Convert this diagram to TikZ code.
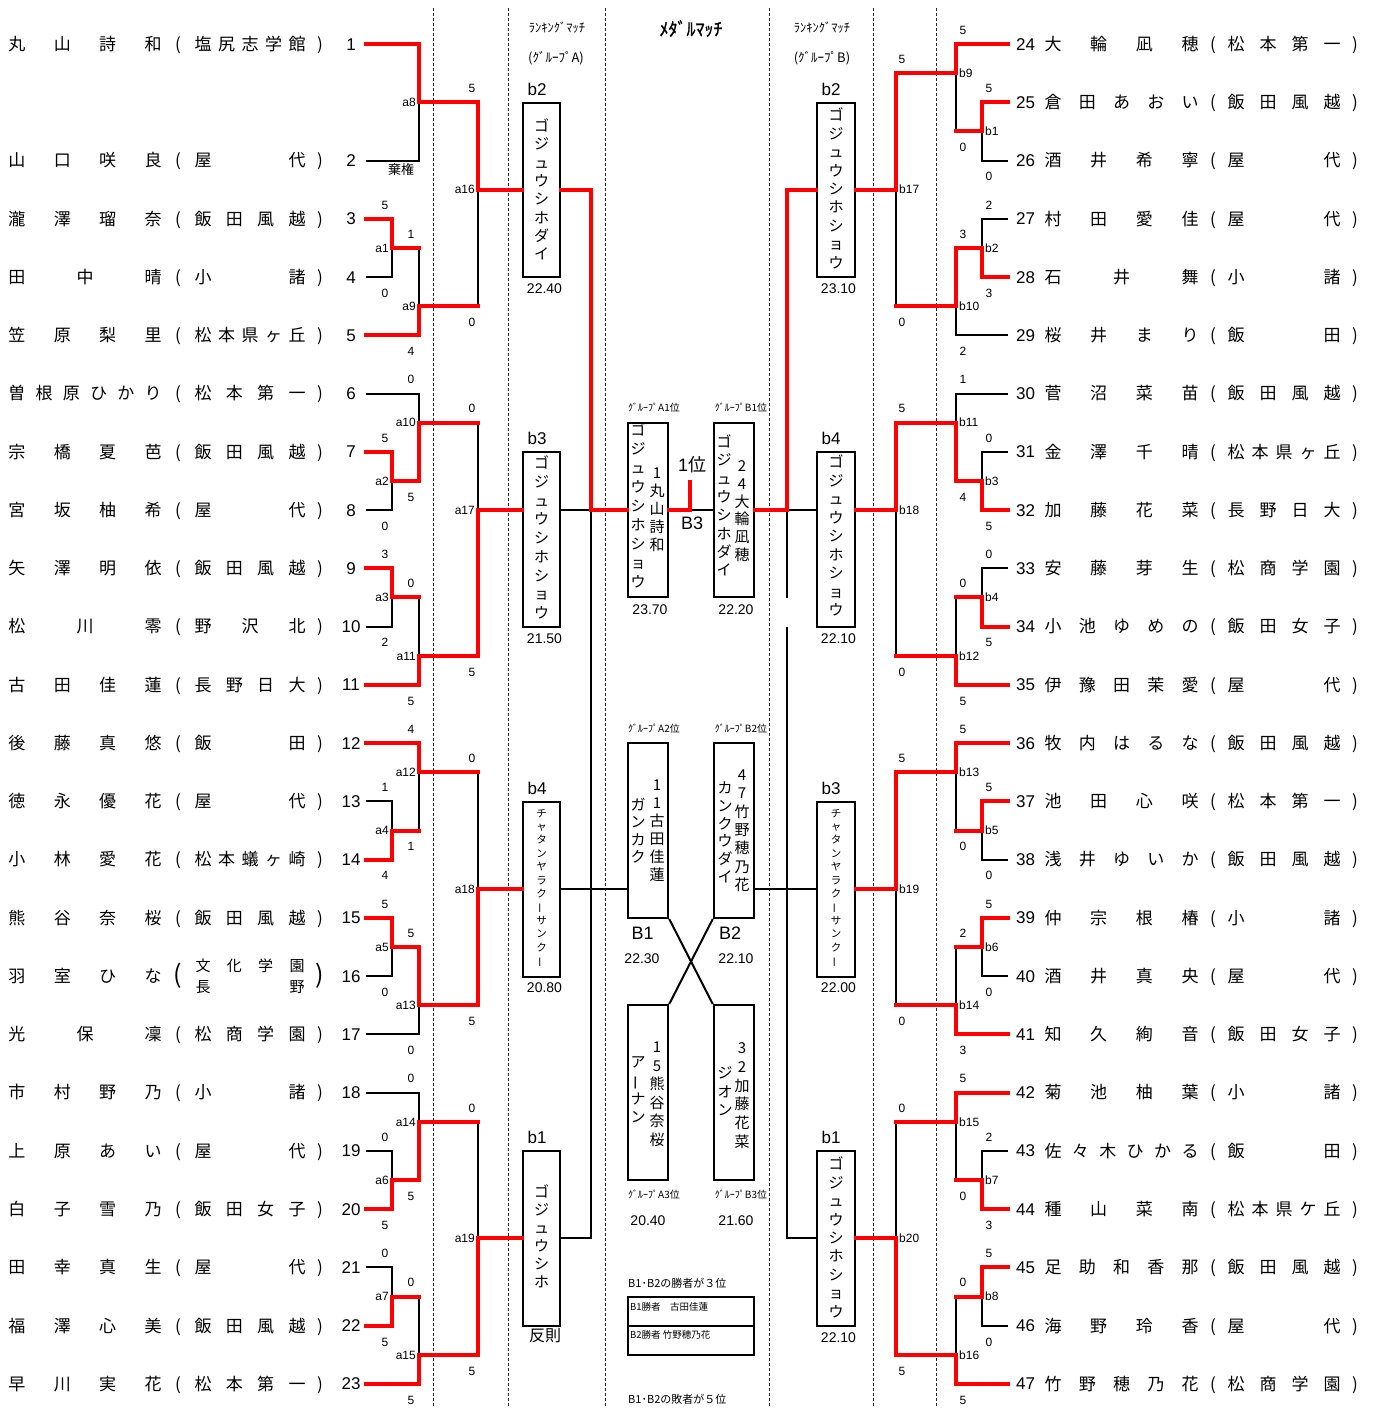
\documentclass[tikz,border=0pt]{standalone}
\usepackage{fontspec}
\setmainfont{Liberation Sans}
\newfontfamily\jp{Noto Sans CJK JP}
\newfontfamily\jpb[FakeBold=1.2]{Noto Sans CJK JP}
\newcommand\vbar{\rotatebox[origin=c]{90}{ー}}
\tikzset{
  win/.style={draw=red,line width=4pt,line cap=rect},
  lose/.style={draw=black,line width=2pt},
  bx/.style={draw=black,line width=2.4pt,minimum width=37.5pt,minimum height=174.5pt,inner sep=0},
  cbx/.style={draw=black,line width=2.4pt,minimum width=40pt,minimum height=174.5pt,inner sep=0},
  sep/.style={draw=black!85,line width=1pt,dash pattern=on 3pt off 2pt},
  num/.style={font=\fontsize{17}{17}\selectfont,anchor=base,inner sep=0},
  nm/.style={font=\jp\fontsize{17}{17}\selectfont,anchor=base,inner sep=0},
  sc/.style={font=\fontsize{12}{12}\selectfont,anchor=base,inner sep=0},
  jlL/.style={font=\fontsize{12}{12}\selectfont,anchor=base east,inner sep=0},
  jlR/.style={font=\fontsize{12}{12}\selectfont,anchor=base west,inner sep=0},
  rows/.style={y=-58.26pt,yshift=-44pt}
}
% spread characters evenly: row, x0, x1, n, list
\newcommand\spread[5]{\foreach \ch [count=\i] in {#5}{\node[nm,yshift=-6.3pt] at ({#2+(\i-1)*((#3)-(#2))/((#4)-1)},#1) {\ch};}}
\newcommand\lp[6]{\node[num,yshift=-6pt] (n#1) at (351,#2) {#1};
  \spread{#2}{17}{153}{#4}{#3}
  \node[nm,yshift=-6.3pt] at (178,#2) {(};
  \spread{#2}{203}{297}{#6}{#5}
  \node[nm,yshift=-6.3pt] at (320,#2) {)};}
\newcommand\rp[6]{\node[num,yshift=-6pt] (n#1) at (1025.5,#2) {#1};
  \spread{#2}{1053}{1190}{#4}{#3}
  \node[nm,yshift=-6.3pt] at (1213,#2) {(};
  \spread{#2}{1236}{1332}{#6}{#5}
  \node[nm,yshift=-6.3pt] at (1355,#2) {)};}
\newcommand\scA[3]{\node[sc,yshift=9.7pt] at (#1,#2) {#3};}
\newcommand\scB[3]{\node[sc,yshift=-20.3pt] at (#1,#2) {#3};}
\newcommand\jL[3]{\node[jlL,yshift=-4.3pt] at ({#1-3},#2) {#3};}
\newcommand\jR[3]{\node[jlR,yshift=-4.3pt] at ({#1+3},#2) {#3};}
% vertical column: x, ycenter, spacing, n, size, list
\newcommand\vcol[6]{\foreach \ch [count=\i] in {#6}{\node[font=\jp\fontsize{#5}{#5}\selectfont,anchor=base,inner sep=0] at ({#1},{#2+(\i-1-((#4)-1)/2)*(#3)+0.37*(#5)}) {\ch};}}
\newcommand\tx[4]{\node[font=\fontsize{#3}{#3}\selectfont,anchor=base,inner sep=0] at (#1,{#2+0.36*(#3)}) {#4};}
\newcommand\tj[4]{\node[font=\jp\fontsize{#3}{#3}\selectfont,anchor=base,inner sep=0] at (#1,{#2+0.37*(#3)}) {#4};}

\begin{document}
\begin{tikzpicture}[x=1pt,y=-1pt]
\useasboundingbox (0,0) rectangle (1376,1408);
\fill[white] (0,0) rectangle (1376,1408);

% separators
\foreach \sx in {433,508,605,769,873,936} {\draw[sep] (\sx,8) -- (\sx,1408);}

% boxes
\node[bx] (Lb2) at (541.5,190) {};
\node[bx] (Lb3) at (541.5,539.5) {};
\node[bx] (Lb4) at (541.5,889.5) {};
\node[bx] (Lb1) at (541.5,1238.5) {};
\node[bx] (Rb2) at (836,190) {};
\node[bx] (Rb4) at (836,539.5) {};
\node[bx] (Rb3) at (836,889.5) {};
\node[bx] (Rb1) at (836,1238.5) {};
\node[cbx] (cA1) at (648,510) {};
\node[cbx] (cB1) at (734,510) {};
\node[cbx] (cA2) at (648,830.5) {};
\node[cbx] (cB2) at (734,830.5) {};
\node[cbx] (cA3) at (648,1092.5) {};
\node[cbx] (cB3) at (734,1092.5) {};
\node[draw,line width=2pt,minimum width=126pt,minimum height=29pt,inner sep=0] (tb1) at (691,1311.5) {};
\node[draw,line width=2pt,minimum width=126pt,minimum height=29pt,inner sep=0] (tb2) at (691,1340.5) {};

\draw[lose] (cA2.south east) -- (cB3.north west);
\draw[lose] (cB2.south west) -- (cA3.north east);

\begin{scope}[rows]
\coordinate (y2h) at (0,2.5);
\coordinate (y8) at (0,8);
\coordinate (y14h) at (0,14.5);
\coordinate (y20h) at (0,20.5);

% ---- left black
\draw[lose] (366,2) -- (419,2) -- (419,1);
\draw[lose] (366,4) -- (392,4) -- (392,3.5);
\draw[lose] (419,3.5) -- (419,4.5);
\draw[lose] (478,2.5) -- (478,4.5);
\draw[lose] (366,6) -- (419,6) -- (419,6.5);
\draw[lose] (366,8) -- (392,8) -- (392,7.5);
\draw[lose] (478,6.5) -- (478,8);
\draw[lose] (366,10) -- (392,10) -- (392,9.5);
\draw[lose] (419,9.5) -- (419,10.5);
\draw[lose] (419,12.5) -- (419,13.5);
\draw[lose] (366,13) -- (392,13) -- (392,13.5);
\draw[lose] (478,12.5) -- (478,14.5);
\draw[lose] (366,16) -- (392,16) -- (392,15.5);
\draw[lose] (366,17) -- (419,17) -- (419,16.5);
\draw[lose] (366,18) -- (419,18) -- (419,18.5);
\draw[lose] (366,19) -- (392,19) -- (392,19.5);
\draw[lose] (478,18.5) -- (478,20.5);
\draw[lose] (366,21) -- (392,21) -- (392,21.5);
\draw[lose] (419,21.5) -- (419,22.5);
% ---- right black
\draw[lose] (1008,2) -- (982,2) -- (982,1.5);
\draw[lose] (956,0.5) -- (956,1.5);
\draw[lose] (896,2.5) -- (896,4.5);
\draw[lose] (1008,3) -- (982,3) -- (982,3.5);
\draw[lose] (1008,5) -- (956,5) -- (956,4.5);
\draw[lose] (1008,6) -- (956,6) -- (956,6.5);
\draw[lose] (1008,7) -- (982,7) -- (982,7.5);
\draw[lose] (896,8) -- (896,10.5);
\draw[lose] (1008,9) -- (982,9) -- (982,9.5);
\draw[lose] (956,9.5) -- (956,10.5);
\draw[lose] (956,12.5) -- (956,13.5);
\draw[lose] (1008,14) -- (982,14) -- (982,13.5);
\draw[lose] (896,14.5) -- (896,16.5);
\draw[lose] (1008,16) -- (982,16) -- (982,15.5);
\draw[lose] (956,15.5) -- (956,16.5);
\draw[lose] (956,18.5) -- (956,19.5);
\draw[lose] (1008,19) -- (982,19) -- (982,19.5);
\draw[lose] (896,18.5) -- (896,20.5);
\draw[lose] (1008,22) -- (982,22) -- (982,21.5);
\draw[lose] (956,21.5) -- (956,22.5);
% ---- centre black
\draw[lose] (Lb3.east |- y8) -- (591,8) -- (591,20.5) -- (Lb1.east |- y20h);
\draw[lose] (Lb4.east |- y14h) -- (cA2.west |- y14h);
\draw[lose] (690,8) -- (cB1.west |- y8);
\draw[lose] (787,8) -- (Rb4.west |- y8);
\draw[lose] (787,8) -- (787,9.51);
\draw[lose] (787,10.01) -- (787,20.5) -- (Rb1.west |- y20h);
\draw[lose] (cB2.east |- y14h) -- (Rb3.west |- y14h);

% ---- left red
\draw[win] (366,0) -- (419,0) -- (419,1) -- (478,1) -- (478,2.5) -- (Lb2.west |- y2h);
\draw[win] (366,3) -- (392,3) -- (392,3.5) -- (419,3.5);
\draw[win] (366,5) -- (419,5) -- (419,4.5) -- (478,4.5);
\draw[win] (366,7) -- (392,7) -- (392,7.5) -- (419,7.5) -- (419,6.5) -- (478,6.5);
\draw[win] (366,9) -- (392,9) -- (392,9.5) -- (419,9.5);
\draw[win] (366,11) -- (419,11) -- (419,10.5) -- (478,10.5) -- (478,8) -- (Lb3.west |- y8);
\draw[win] (366,12) -- (419,12) -- (419,12.5) -- (478,12.5);
\draw[win] (366,14) -- (392,14) -- (392,13.5) -- (419,13.5);
\draw[win] (366,15) -- (392,15) -- (392,15.5) -- (419,15.5) -- (419,16.5) -- (478,16.5) -- (478,14.5) -- (Lb4.west |- y14h);
\draw[win] (366,20) -- (392,20) -- (392,19.5) -- (419,19.5) -- (419,18.5) -- (478,18.5);
\draw[win] (366,22) -- (392,22) -- (392,21.5) -- (419,21.5);
\draw[win] (366,23) -- (419,23) -- (419,22.5) -- (478,22.5) -- (478,20.5) -- (Lb1.west |- y20h);
% ---- right red
\draw[win] (1008,0) -- (956,0) -- (956,0.5) -- (896,0.5) -- (896,2.5) -- (Rb2.east |- y2h);
\draw[win] (1008,1) -- (982,1) -- (982,1.5) -- (956,1.5);
\draw[win] (1008,4) -- (982,4) -- (982,3.5) -- (956,3.5) -- (956,4.5) -- (896,4.5);
\draw[win] (1008,8) -- (982,8) -- (982,7.5) -- (956,7.5) -- (956,6.5) -- (896,6.5) -- (896,8) -- (Rb4.east |- y8);
\draw[win] (1008,10) -- (982,10) -- (982,9.5) -- (956,9.5);
\draw[win] (1008,11) -- (956,11) -- (956,10.5) -- (896,10.5);
\draw[win] (1008,12) -- (956,12) -- (956,12.5) -- (896,12.5) -- (896,14.5) -- (Rb3.east |- y14h);
\draw[win] (1008,13) -- (982,13) -- (982,13.5) -- (956,13.5);
\draw[win] (1008,15) -- (982,15) -- (982,15.5) -- (956,15.5);
\draw[win] (1008,17) -- (956,17) -- (956,16.5) -- (896,16.5);
\draw[win] (1008,18) -- (956,18) -- (956,18.5) -- (896,18.5);
\draw[win] (1008,20) -- (982,20) -- (982,19.5) -- (956,19.5);
\draw[win] (1008,21) -- (982,21) -- (982,21.5) -- (956,21.5);
\draw[win] (1008,23) -- (956,23) -- (956,22.5) -- (896,22.5) -- (896,20.5) -- (Rb1.east |- y20h);
% ---- centre red
\draw[win] (Lb2.east |- y2h) -- (591,2.5) -- (591,8) -- (cA1.west |- y8);
\draw[win] (cA1.east |- y8) -- (690,8) -- (690,7.52);
\draw[win] (cB1.east |- y8) -- (787,8) -- (787,2.5) -- (Rb2.west |- y2h);

% ---- players
\lp{1}{0}{丸,山,詩,和}{4}{塩,尻,志,学,館}{5}
\lp{2}{2}{山,口,咲,良}{4}{屋,代}{2}
\lp{3}{3}{瀧,澤,瑠,奈}{4}{飯,田,風,越}{4}
\lp{4}{4}{田,中,晴}{3}{小,諸}{2}
\lp{5}{5}{笠,原,梨,里}{4}{松,本,県,ヶ,丘}{5}
\lp{6}{6}{曽,根,原,ひ,か,り}{6}{松,本,第,一}{4}
\lp{7}{7}{宗,橋,夏,芭}{4}{飯,田,風,越}{4}
\lp{8}{8}{宮,坂,柚,希}{4}{屋,代}{2}
\lp{9}{9}{矢,澤,明,依}{4}{飯,田,風,越}{4}
\lp{10}{10}{松,川,零}{3}{野,沢,北}{3}
\lp{11}{11}{古,田,佳,蓮}{4}{長,野,日,大}{4}
\lp{12}{12}{後,藤,真,悠}{4}{飯,田}{2}
\lp{13}{13}{徳,永,優,花}{4}{屋,代}{2}
\lp{14}{14}{小,林,愛,花}{4}{松,本,蟻,ヶ,崎}{5}
\lp{15}{15}{熊,谷,奈,桜}{4}{飯,田,風,越}{4}
\node[num,yshift=-6pt] (n16) at (351,16) {16};
\spread{16}{17}{153}{4}{羽,室,ひ,な}
\node[font=\jp\fontsize{25}{25}\selectfont,inner sep=0] at (178,16) {(};
\node[font=\jp\fontsize{25}{25}\selectfont,inner sep=0] at (320,16) {)};
\foreach \ch [count=\i] in {文,化,学,園}{\node[font=\jp\fontsize{15}{15}\selectfont,anchor=base,inner sep=0,yshift=4.5pt] at ({203+(\i-1)*94/3},16) {\ch};}
\node[font=\jp\fontsize{15}{15}\selectfont,anchor=base,inner sep=0,yshift=-16.5pt] at (203,16) {長};
\node[font=\jp\fontsize{15}{15}\selectfont,anchor=base,inner sep=0,yshift=-16.5pt] at (297,16) {野};
\lp{17}{17}{光,保,凜}{3}{松,商,学,園}{4}
\lp{18}{18}{市,村,野,乃}{4}{小,諸}{2}
\lp{19}{19}{上,原,あ,い}{4}{屋,代}{2}
\lp{20}{20}{白,子,雪,乃}{4}{飯,田,女,子}{4}
\lp{21}{21}{田,幸,真,生}{4}{屋,代}{2}
\lp{22}{22}{福,澤,心,美}{4}{飯,田,風,越}{4}
\lp{23}{23}{早,川,実,花}{4}{松,本,第,一}{4}

\rp{24}{0}{大,輪,凪,穂}{4}{松,本,第,一}{4}
\rp{25}{1}{倉,田,あ,お,い}{5}{飯,田,風,越}{4}
\rp{26}{2}{酒,井,希,寧}{4}{屋,代}{2}
\rp{27}{3}{村,田,愛,佳}{4}{屋,代}{2}
\rp{28}{4}{石,井,舞}{3}{小,諸}{2}
\rp{29}{5}{桜,井,ま,り}{4}{飯,田}{2}
\rp{30}{6}{菅,沼,菜,苗}{4}{飯,田,風,越}{4}
\rp{31}{7}{金,澤,千,晴}{4}{松,本,県,ヶ,丘}{5}
\rp{32}{8}{加,藤,花,菜}{4}{長,野,日,大}{4}
\rp{33}{9}{安,藤,芽,生}{4}{松,商,学,園}{4}
\rp{34}{10}{小,池,ゆ,め,の}{5}{飯,田,女,子}{4}
\rp{35}{11}{伊,豫,田,茉,愛}{5}{屋,代}{2}
\rp{36}{12}{牧,内,は,る,な}{5}{飯,田,風,越}{4}
\rp{37}{13}{池,田,心,咲}{4}{松,本,第,一}{4}
\rp{38}{14}{浅,井,ゆ,い,か}{5}{飯,田,風,越}{4}
\rp{39}{15}{仲,宗,根,椿}{4}{小,諸}{2}
\rp{40}{16}{酒,井,真,央}{4}{屋,代}{2}
\rp{41}{17}{知,久,絢,音}{4}{飯,田,女,子}{4}
\rp{42}{18}{菊,池,柚,葉}{4}{小,諸}{2}
\rp{43}{19}{佐,々,木,ひ,か,る}{6}{飯,田}{2}
\rp{44}{20}{種,山,菜,南}{4}{松,本,県,ケ,丘}{5}
\rp{45}{21}{足,助,和,香,那}{5}{飯,田,風,越}{4}
\rp{46}{22}{海,野,玲,香}{4}{屋,代}{2}
\rp{47}{23}{竹,野,穂,乃,花}{5}{松,商,学,園}{4}

% ---- scores left
\scA{385}{3}{5}\scB{385}{4}{0}\scA{385}{7}{5}\scB{385}{8}{0}
\scA{385}{9}{3}\scB{385}{10}{2}\scA{385}{13}{1}\scB{385}{14}{4}
\scA{385}{15}{5}\scB{385}{16}{0}\scA{385}{19}{0}\scB{385}{20}{5}
\scA{385}{21}{0}\scB{385}{22}{5}
\scA{411}{3.5}{1}\scB{411}{5}{4}\scA{411}{6}{0}\scB{411}{7.5}{5}
\scA{411}{9.5}{0}\scB{411}{11}{5}\scA{411}{12}{4}\scB{411}{13.5}{1}
\scA{411}{15.5}{5}\scB{411}{17}{0}\scA{411}{18}{0}\scB{411}{19.5}{5}
\scA{411}{21.5}{0}\scB{411}{23}{5}
\scA{472}{1}{5}\scB{472}{4.5}{0}\scA{472}{6.5}{0}\scB{472}{10.5}{5}
\scA{472}{12.5}{0}\scB{472}{16.5}{5}\scA{472}{18.5}{0}\scB{472}{22.5}{5}
% ---- scores right
\scA{989}{1}{5}\scB{989}{2}{0}\scA{989}{3}{2}\scB{989}{4}{3}
\scA{989}{7}{0}\scB{989}{8}{5}\scA{989}{9}{0}\scB{989}{10}{5}
\scA{989}{13}{5}\scB{989}{14}{0}\scA{989}{15}{5}\scB{989}{16}{0}
\scA{989}{19}{2}\scB{989}{20}{3}\scA{989}{21}{5}\scB{989}{22}{0}
\scA{963}{0}{5}\scB{963}{1.5}{0}\scA{963}{3.5}{3}\scB{963}{5}{2}
\scA{963}{6}{1}\scB{963}{7.5}{4}\scA{963}{9.5}{0}\scB{963}{11}{5}
\scA{963}{12}{5}\scB{963}{13.5}{0}\scA{963}{15.5}{2}\scB{963}{17}{3}
\scA{963}{18}{5}\scB{963}{19.5}{0}\scA{963}{21.5}{0}\scB{963}{23}{5}
\scA{902}{0.5}{5}\scB{902}{4.5}{0}\scA{902}{6.5}{5}\scB{902}{10.5}{0}
\scA{902}{12.5}{5}\scB{902}{16.5}{0}\scA{902}{18.5}{0}\scB{902}{22.5}{5}
% ---- junction labels
\jL{392}{3.5}{a1}\jL{392}{7.5}{a2}\jL{392}{9.5}{a3}\jL{392}{13.5}{a4}
\jL{392}{15.5}{a5}\jL{392}{19.5}{a6}\jL{392}{21.5}{a7}
\jL{419}{1}{a8}\jL{419}{4.5}{a9}\jL{419}{6.5}{a10}\jL{419}{10.5}{a11}
\jL{419}{12.5}{a12}\jL{419}{16.5}{a13}\jL{419}{18.5}{a14}\jL{419}{22.5}{a15}
\jL{478}{2.5}{a16}\jL{478}{8}{a17}\jL{478}{14.5}{a18}\jL{478}{20.5}{a19}
\jR{982}{1.5}{b1}\jR{982}{3.5}{b2}\jR{982}{7.5}{b3}\jR{982}{9.5}{b4}
\jR{982}{13.5}{b5}\jR{982}{15.5}{b6}\jR{982}{19.5}{b7}\jR{982}{21.5}{b8}
\jR{956}{0.5}{b9}\jR{956}{4.5}{b10}\jR{956}{6.5}{b11}\jR{956}{10.5}{b12}
\jR{956}{12.5}{b13}\jR{956}{16.5}{b14}\jR{956}{18.5}{b15}\jR{956}{22.5}{b16}
\jR{896}{2.5}{b17}\jR{896}{8}{b18}\jR{896}{14.5}{b19}\jR{896}{20.5}{b20}
\end{scope}

% ---- headers
\tj{557}{28}{12.5}{ﾗﾝｷﾝｸﾞﾏｯﾁ}
\tj{556}{58}{13}{(ｸﾞﾙｰﾌﾟA)}
\tj{822}{28}{12.5}{ﾗﾝｷﾝｸﾞﾏｯﾁ}
\tj{822}{58}{13}{(ｸﾞﾙｰﾌﾟB)}
\node[font=\jpb\fontsize{18}{18}\selectfont,anchor=base,inner sep=0] at (691,{29+6.7}) {ﾒﾀﾞﾙﾏｯﾁ};
\tj{401}{170}{13}{棄権}

% ---- box labels
\tx{537}{89}{17}{b2}\tx{544.5}{288}{14}{22.40}
\tx{537}{438}{17}{b3}\tx{544.5}{638}{14}{21.50}
\tx{537}{788}{17}{b4}\tx{544.5}{987}{14}{20.80}
\tx{537}{1137}{17}{b1}\tj{545}{1336}{16}{反則}
\tx{831}{89}{17}{b2}\tx{838.5}{288}{14}{23.10}
\tx{831}{438}{17}{b4}\tx{838.5}{638}{14}{22.10}
\tx{831}{788}{17}{b3}\tx{838.5}{987}{14}{22.00}
\tx{831}{1137}{17}{b1}\tx{838.5}{1337}{14}{22.10}

% ---- box texts
\vcol{541.5}{190}{18.3}{8}{15}{ゴ,ジ,ュ,ウ,シ,ホ,ダ,イ}
\vcol{541.5}{538}{18.75}{9}{15}{ゴ,ジ,ュ,ウ,シ,ホ,シ,ョ,ウ}
\vcol{541.5}{887}{13.4}{12}{10.5}{チ,ャ,タ,ン,ヤ,ラ,ク,\vbar,サ,ン,ク,\vbar}
\vcol{541.5}{1237}{18}{6}{15}{ゴ,ジ,ュ,ウ,シ,ホ}
\vcol{836}{189}{18.4}{9}{15}{ゴ,ジ,ュ,ウ,シ,ホ,シ,ョ,ウ}
\vcol{836}{536}{18.5}{9}{15}{ゴ,ジ,ュ,ウ,シ,ホ,シ,ョ,ウ}
\vcol{836}{887}{13.4}{12}{10.5}{チ,ャ,タ,ン,ヤ,ラ,ク,\vbar,サ,ン,ク,\vbar}
\vcol{836}{1238}{18.4}{9}{15}{ゴ,ジ,ュ,ウ,シ,ホ,シ,ョ,ウ}
\vcol{638}{506}{19}{9}{15}{ゴ,ジ,ュ,ウ,シ,ホ,シ,ョ,ウ}
\vcol{657}{509}{18}{5}{15}{1,丸,山,詩,和}
\vcol{724}{506}{18.3}{8}{15}{ゴ,ジ,ュ,ウ,シ,ホ,ダ,イ}
\vcol{742}{510.5}{17.8}{6}{15}{2,4,大,輪,凪,穂}
\vcol{638}{831}{17.5}{4}{15}{ガ,ン,カ,ク}
\vcol{657}{830}{18}{6}{15}{1,1,古,田,佳,蓮}
\vcol{725}{832.5}{17.8}{6}{15}{カ,ン,ク,ウ,ダ,イ}
\vcol{742}{830}{18.3}{7}{15}{4,7,竹,野,穂,乃,花}
\vcol{638}{1089.5}{18.3}{4}{15}{ア,\vbar,ナ,ン}
\vcol{657}{1093.5}{18.6}{6}{15}{1,5,熊,谷,奈,桜}
\vcol{725}{1091.5}{18.5}{3}{15}{ジ,オ,ン}
\vcol{742}{1095}{18.8}{6}{15}{3,2,加,藤,花,菜}

% ---- centre labels
\tj{654}{408}{10}{ｸﾞﾙｰﾌﾟA1位}\tj{741}{408}{10}{ｸﾞﾙｰﾌﾟB1位}
\tj{654}{729}{10}{ｸﾞﾙｰﾌﾟA2位}\tj{741}{729}{10}{ｸﾞﾙｰﾌﾟB2位}
\tj{654}{1195}{10}{ｸﾞﾙｰﾌﾟA3位}\tj{741}{1195}{10}{ｸﾞﾙｰﾌﾟB3位}
\tx{650}{609}{14}{23.70}\tx{736}{609}{14}{22.20}
\tx{642.5}{933}{18}{B1}\tx{730}{933}{18}{B2}
\tx{642}{958}{14}{22.30}\tx{736}{958}{14}{22.10}
\tx{648}{1220}{14}{20.40}\tx{736}{1220}{14}{21.60}
\tx{692}{465}{18}{1{\jp 位}}
\tx{692}{523}{18}{B3}
\node[font=\jp\fontsize{11}{11}\selectfont,anchor=base west,inner sep=0] at (628,{1283+4}) {B1･B2の勝者が３位};
\node[font=\jp\fontsize{11}{11}\selectfont,anchor=base west,inner sep=0] at (628,{1399+4}) {B1･B2の敗者が５位};
\node[font=\jp\fontsize{9.5}{9.5}\selectfont,anchor=base west,inner sep=0] at (630,{1307+3.5}) {B1勝者　古田佳蓮};
\node[font=\jp\fontsize{9.5}{9.5}\selectfont,anchor=base west,inner sep=0] at (630,{1335+3.5}) {B2勝者 竹野穂乃花};
\end{tikzpicture}
\end{document}
